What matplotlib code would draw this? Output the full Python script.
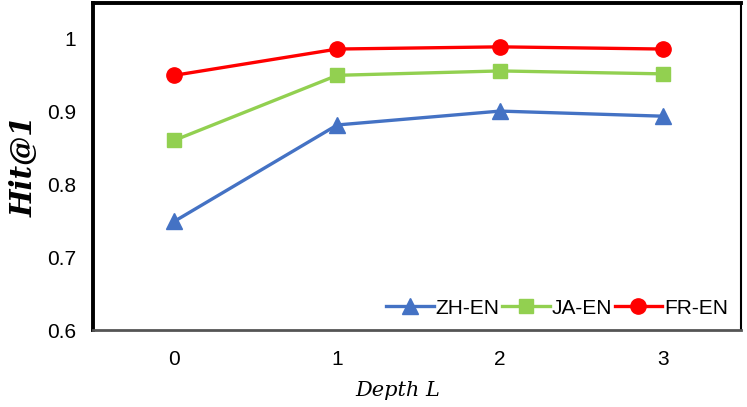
import matplotlib
matplotlib.use("Agg")
import matplotlib.pyplot as plt

# ---------------------------------------------------------------------------
# Data
# ---------------------------------------------------------------------------
depths = [0, 1, 2, 3]
zh_en = [0.749, 0.881, 0.900, 0.893]
ja_en = [0.860, 0.949, 0.955, 0.951]
fr_en = [0.949, 0.985, 0.988, 0.985]
y_ticks = [0.6, 0.7, 0.8, 0.9, 1.0]
y_tick_labels = ["0.6", "0.7", "0.8", "0.9", "1"]

fig = plt.figure(figsize=(7.47, 4.07), dpi=100)
ax = fig.add_axes([0.1245, 0.189, 0.8675, 0.8035])

ax.plot(depths, zh_en, "-^", color="#4472C4", linewidth=2.4, markersize=11, label="ZH-EN")
ax.plot(depths, ja_en, "-s", color="#92D050", linewidth=2.4, markersize=10, label="JA-EN")
ax.plot(depths, fr_en, "-o", color="#FF0000", linewidth=2.4, markersize=11, label="FR-EN")

ax.set_xlim(-0.5, 3.48)
ax.set_ylim(0.6, 1.048)
ax.set_xticks(depths)
ax.set_yticks(y_ticks)
ax.set_yticklabels(y_tick_labels)
ax.tick_params(length=0, labelsize=15, pad=14)
ax.tick_params(axis="y", pad=12)
for lab in ax.get_xticklabels() + ax.get_yticklabels():
    lab.set_family("Liberation Sans")

ax.set_ylabel("Hit@1", fontsize=21, fontweight="bold", fontstyle="italic",
              family="DejaVu Serif", labelpad=6)
ax.set_xlabel("Depth L", fontsize=15, fontstyle="italic", family="DejaVu Serif",
              labelpad=6)
ax.xaxis.set_label_coords(0.47, -0.155)

ax.spines["left"].set_linewidth(2.8)
ax.spines["top"].set_linewidth(2.8)
ax.spines["right"].set_linewidth(1.5)
ax.spines["bottom"].set_linewidth(2.0)
ax.spines["bottom"].set_color("#555555")

leg = ax.legend(loc="lower right", ncol=3, frameon=False,
                handlelength=2.3, handletextpad=0.1, columnspacing=0.1,
                borderaxespad=0.2, prop={"family": "Liberation Sans", "size": 15})

fig.savefig("out.png", dpi=100)
